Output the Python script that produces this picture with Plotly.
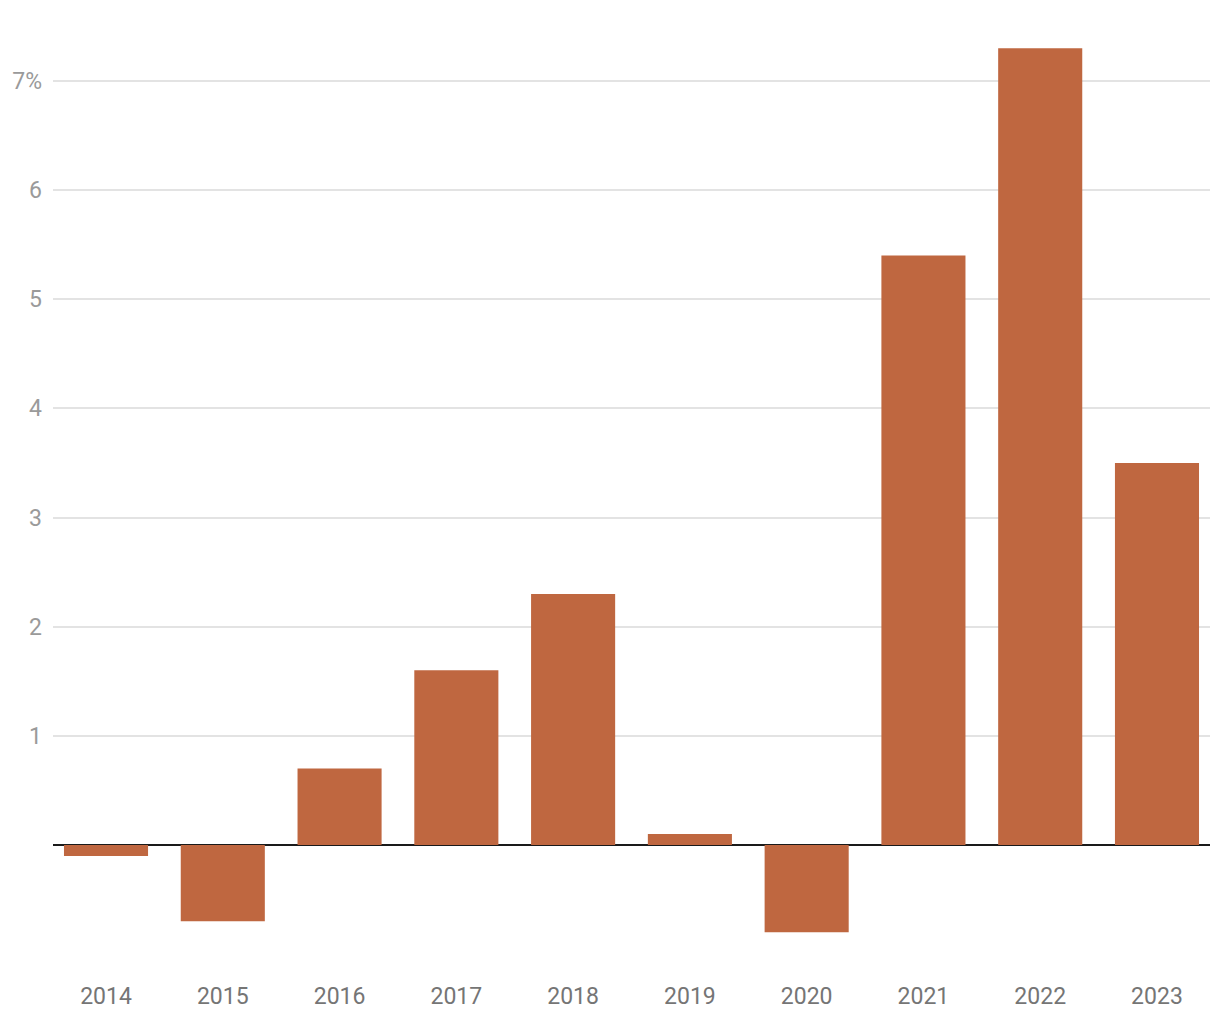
import plotly.graph_objects as go

years = ["2014", "2015", "2016", "2017", "2018", "2019", "2020", "2021", "2022", "2023"]
values = [-0.1, -0.7, 0.7, 1.6, 2.3, 0.1, -0.8, 5.4, 7.3, 3.5]
y_tickvals = [1, 2, 3, 4, 5, 6, 7]
y_ticktext = ["1", "2", "3", "4", "5", "6", "7%"]

fig = go.Figure(go.Bar(
    x=years, y=values, marker=dict(color="#BF6740", line=dict(width=0)),
    width=0.72, hoverinfo="x+y",
))

fig.update_layout(
    width=1220, height=1020,
    margin=dict(l=53, r=10, t=30, b=60),
    paper_bgcolor="white", plot_bgcolor="white",
    font=dict(family="Roboto", size=23, color="#777777"),
    showlegend=False,
)
fig.update_xaxes(
    type="category", range=[-0.454, 9.454],
    showgrid=False, showline=False, ticks="",
    tickfont=dict(size=23, color="#757575"),
    ticklabelstandoff=20,
)
fig.update_yaxes(
    range=[-1.054, 7.467],
    tickvals=y_tickvals, ticktext=y_ticktext,
    showgrid=True, gridcolor="#e3e3e3", gridwidth=1.5,
    zeroline=True, zerolinecolor="#1a1a1a", zerolinewidth=2,
    tickfont=dict(size=23, color="#9a9a9a"),
    ticklabelstandoff=10,
)

fig.write_html("out.html")
